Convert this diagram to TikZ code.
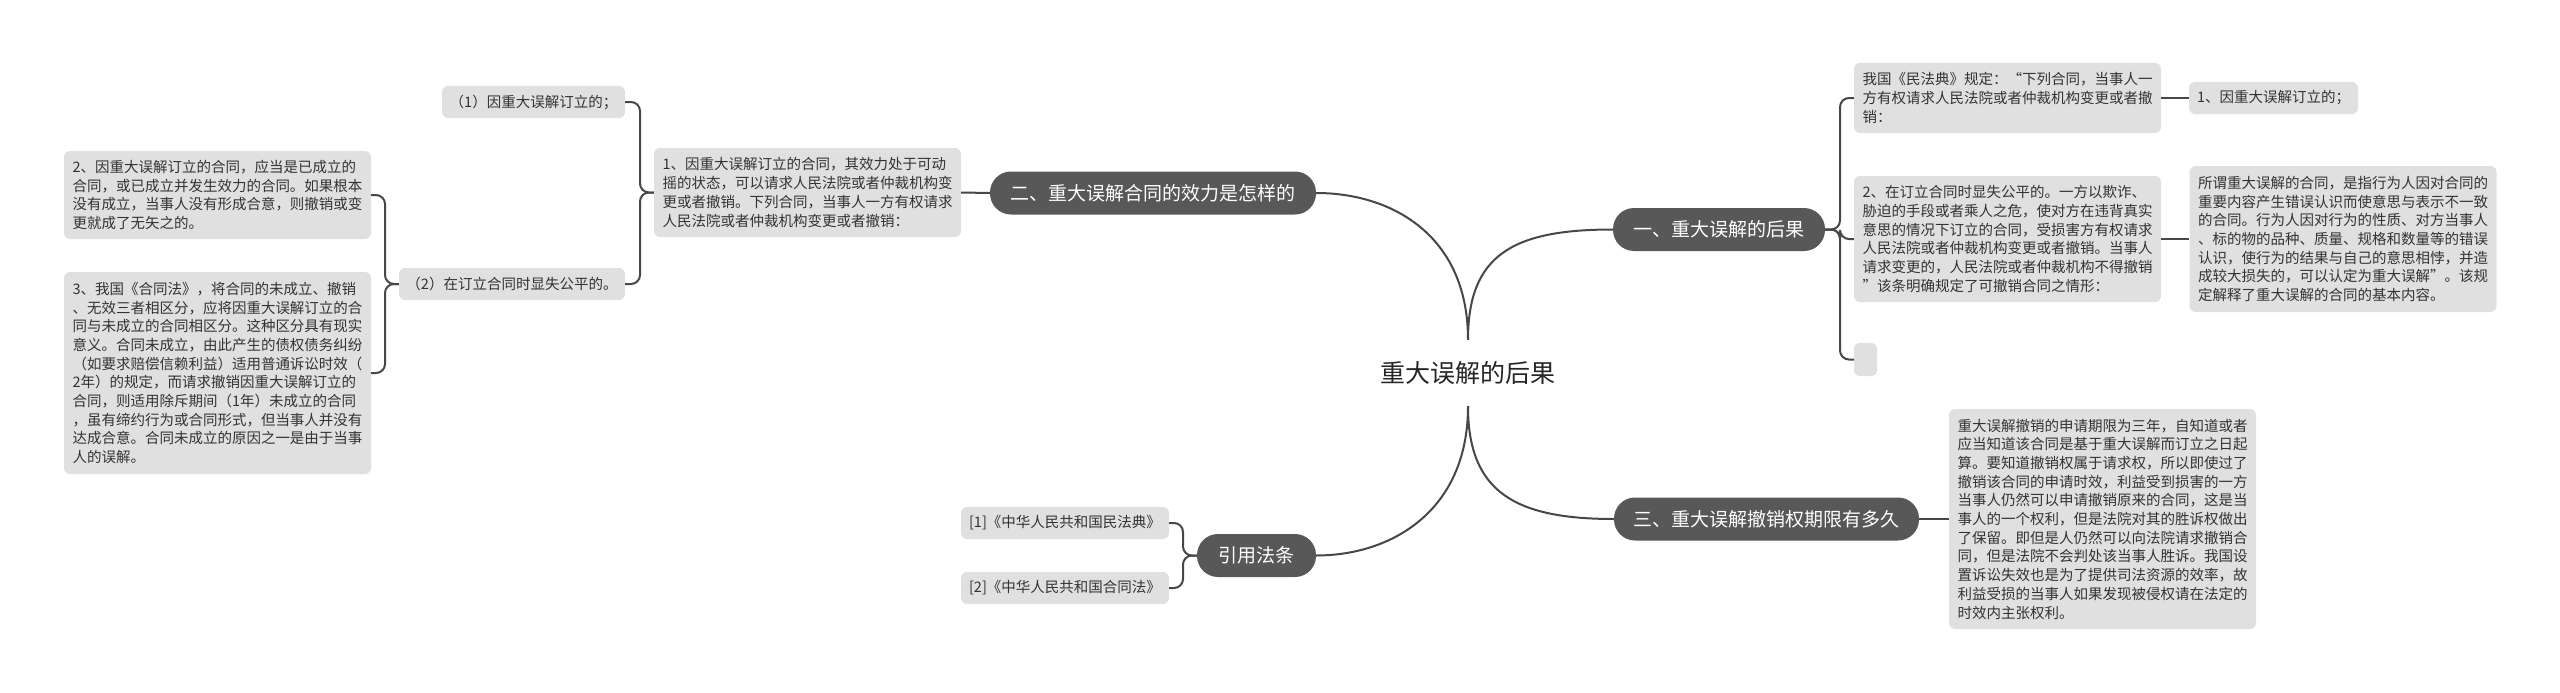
\documentclass[tikz,border=0pt]{standalone}
\usepackage{fontspec}
\setmainfont{Noto Sans CJK SC}
\definecolor{boxfill}{HTML}{E0E0E0}
\definecolor{pillfill}{HTML}{585858}
\definecolor{linec}{HTML}{474747}
\definecolor{txt}{HTML}{333333}
\tikzset{
  conn/.style={draw=linec, line width=2pt, rounded corners=9pt},
  curve/.style={draw=linec, line width=2pt},
  tbox/.style={fill=boxfill, rounded corners=6pt, text=txt, font=\fontsize{14.5}{18.7}\selectfont, align=left, text width=290pt, inner xsep=8.5pt, inner ysep=0pt},
  sbox/.style={fill=boxfill, rounded corners=6pt, text=txt, font=\fontsize{14.5}{18.7}\selectfont, inner sep=0pt, minimum height=32pt},
  pill/.style={fill=pillfill, rounded corners=21pt, text=white, font=\fontsize{19}{23}\selectfont, inner sep=0pt, minimum height=43pt},
}
\begin{document}
\begin{tikzpicture}[x=1pt, y=-1pt]
\useasboundingbox (0,0) rectangle (2560,693);

% root
\node[font=\fontsize{25}{30}\selectfont, text=black!85, inner sep=0pt, minimum height=66pt, minimum width=180pt] (root) at (1468,373) {重大误解的后果};

% main branches
\node[pill, minimum width=212pt] (b1) at (1719,229.5) {一、重大误解的后果};
\node[pill, minimum width=326pt] (b2) at (1153,193) {二、重大误解合同的效力是怎样的};
\node[pill, minimum width=305pt] (b3) at (1766.5,519) {三、重大误解撤销权期限有多久};
\node[pill, minimum width=119pt] (b4) at (1256.5,555.5) {引用法条};

% branch 1 children
\node[tbox, minimum width=307pt, minimum height=70pt] (na) at (2007.5,98) {我国《民法典》规定：“下列合同，当事人一\\方有权请求人民法院或者仲裁机构变更或者撤\\销：};
\node[sbox, minimum width=169pt] (na1) at (2273.5,98) {1、因重大误解订立的；};
\node[tbox, minimum width=307pt, minimum height=126pt] (nb) at (2007.5,239) {2、在订立合同时显失公平的。一方以欺诈、\\胁迫的手段或者乘人之危，使对方在违背真实\\意思的情况下订立的合同，受损害方有权请求\\人民法院或者仲裁机构变更或者撤销。当事人\\请求变更的，人民法院或者仲裁机构不得撤销\\”该条明确规定了可撤销合同之情形：};
\node[tbox, minimum width=307pt, minimum height=146pt] (nb1) at (2343,239) {所谓重大误解的合同，是指行为人因对合同的\\重要内容产生错误认识而使意思与表示不一致\\的合同。行为人因对行为的性质、对方当事人\\、标的物的品种、质量、规格和数量等的错误\\认识，使行为的结果与自己的意思相悖，并造\\成较大损失的，可以认定为重大误解”。该规\\定解释了重大误解的合同的基本内容。};
\node[fill=boxfill, rounded corners=5pt, inner sep=0pt, minimum width=23pt, minimum height=33pt] (nc) at (1865.5,359.5) {};

% branch 3 child
\node[tbox, minimum width=307pt, minimum height=220pt] (n3) at (2102.5,519) {重大误解撤销的申请期限为三年，自知道或者\\应当知道该合同是基于重大误解而订立之日起\\算。要知道撤销权属于请求权，所以即使过了\\撤销该合同的申请时效，利益受到损害的一方\\当事人仍然可以申请撤销原来的合同，这是当\\事人的一个权利，但是法院对其的胜诉权做出\\了保留。即但是人仍然可以向法院请求撤销合\\同，但是法院不会判处该当事人胜诉。我国设\\置诉讼失效也是为了提供司法资源的效率，故\\利益受损的当事人如果发现被侵权请在法定的\\时效内主张权利。};

% branch 2 children
\node[tbox, minimum width=307pt, minimum height=89pt] (n1) at (807.5,192.5) {1、因重大误解订立的合同，其效力处于可动\\摇的状态，可以请求人民法院或者仲裁机构变\\更或者撤销。下列合同，当事人一方有权请求\\人民法院或者仲裁机构变更或者撤销：};
\node[sbox, minimum width=183pt] (p1) at (533.5,102) {（1）因重大误解订立的；};
\node[sbox, minimum width=226pt] (p2) at (512,284) {（2）在订立合同时显失公平的。};
\node[tbox, minimum width=307pt, minimum height=88pt] (l2) at (217.5,195) {2、因重大误解订立的合同，应当是已成立的\\合同，或已成立并发生效力的合同。如果根本\\没有成立，当事人没有形成合意，则撤销或变\\更就成了无矢之的。};
\node[tbox, minimum width=307pt, minimum height=202pt] (l3) at (217.5,373) {3、我国《合同法》，将合同的未成立、撤销\\、无效三者相区分，应将因重大误解订立的合\\同与未成立的合同相区分。这种区分具有现实\\意义。合同未成立，由此产生的债权债务纠纷\\（如要求赔偿信赖利益）适用普通诉讼时效（\\2年）的规定，而请求撤销因重大误解订立的\\合同，则适用除斥期间（1年）未成立的合同\\，虽有缔约行为或合同形式，但当事人并没有\\达成合意。合同未成立的原因之一是由于当事\\人的误解。};

% references
\node[sbox, minimum width=208pt] (r1) at (1065,523) {[1]《中华人民共和国民法典》};
\node[sbox, minimum width=208pt] (r2) at (1065,588) {[2]《中华人民共和国合同法》};

% bus coordinates
\coordinate (bus1) at (1840,0);
\coordinate (busn1) at (640,0);
\coordinate (busp2) at (385,0);
\coordinate (bus4) at (1183,0);

% root curves
\draw[curve] (root.north) .. controls +(0,-85) and +(-100,0) .. (b1.west);
\draw[curve] (root.north) .. controls +(0,-105) and +(75,0) .. (b2.east);
\draw[curve] (root.south) .. controls +(0,85) and +(-100,0) .. (b3.west);
\draw[curve] (root.south) .. controls +(0,105) and +(75,0) .. (b4.east);

% branch 1
\draw[conn] (b1.east) -- (b1.east -| bus1) |- (na.west);
\draw[conn] (b1.east) -- (b1.east -| bus1) |- (nb.west);
\draw[conn] (b1.east) -- (b1.east -| bus1) |- (nc.west);
\draw[conn] (na.east) -- (na1.west);
\draw[conn] (nb.east) -- (nb1.west);

% branch 3
\draw[conn] (b3.east) -- (n3.west);

% branch 2
\draw[conn] (b2.west) -- (n1.east);
\draw[conn] (n1.west) -- (n1.west -| busn1) |- (p1.east);
\draw[conn] (n1.west) -- (n1.west -| busn1) |- (p2.east);
\draw[conn] (p2.west) -- (p2.west -| busp2) |- (l2.east);
\draw[conn] (p2.west) -- (p2.west -| busp2) |- (l3.east);

% references
\draw[conn] (b4.west) -- (b4.west -| bus4) |- (r1.east);
\draw[conn] (b4.west) -- (b4.west -| bus4) |- (r2.east);
\end{tikzpicture}
\end{document}
